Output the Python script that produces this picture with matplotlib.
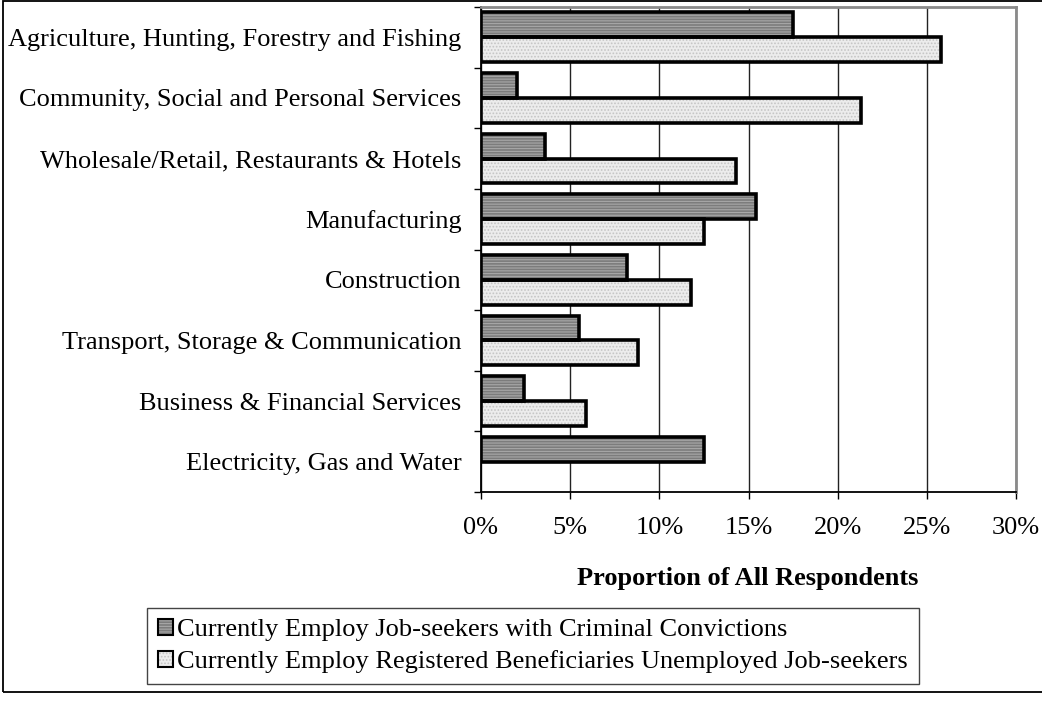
import numpy as np
import matplotlib
matplotlib.use('Agg')
import matplotlib.pyplot as plt
from matplotlib.patches import Patch, Rectangle
from matplotlib.legend_handler import HandlerTuple
from matplotlib.ticker import FixedLocator, FuncFormatter

plt.rcParams['font.family'] = ['Liberation Serif', 'DejaVu Serif']
plt.rcParams['hatch.linewidth'] = 0.8

sectors = ['Agriculture, Hunting, Forestry and Fishing',
           'Community, Social and Personal Services',
           'Wholesale/Retail, Restaurants & Hotels',
           'Manufacturing',
           'Construction',
           'Transport, Storage & Communication',
           'Business & Financial Services',
           'Electricity, Gas and Water']
convictions = [17.5, 2.0, 3.6, 15.4, 8.2, 5.5, 2.4, 12.5]
beneficiaries = [25.8, 21.3, 14.3, 12.5, 11.8, 8.8, 5.9, 0.0]
series_names = ['Currently Employ Job-seekers with Criminal Convictions',
                'Currently Employ Registered Beneficiaries Unemployed Job-seekers']

fs = 19

fig = plt.figure(figsize=(10.42, 7.18), dpi=100)
ax = fig.add_axes([481/1042, 1-492/718, 535/1042, 485/718])

y = np.arange(len(sectors))
h = 0.41
dark = dict(facecolor='#7c7c7c', edgecolor='#a8a8a8', hatch='------', linewidth=0)
light = dict(facecolor='#ececec', edgecolor='#c4c4c4', hatch='.....', linewidth=0)
outline = dict(fill=False, edgecolor='black', linewidth=2.6)

# pattern fill first, black outline on top
ax.barh(y - h/2, convictions, height=h, zorder=2, **dark)
ax.barh(y - h/2, convictions, height=h, zorder=3, **outline)
nz = np.array(beneficiaries) > 0
ax.barh(y[nz] + h/2, np.array(beneficiaries)[nz], height=h, zorder=2, **light)
ax.barh(y[nz] + h/2, np.array(beneficiaries)[nz], height=h, zorder=3, **outline)

ax.set_xlim(0, 30)
ax.set_ylim(len(sectors) - 0.5, -0.5)
ax.set_xticks(np.arange(0, 31, 5))
ax.xaxis.set_major_formatter(FuncFormatter(lambda v, p: '%d%%' % v))
ax.grid(axis='x', color='#222222', linewidth=1, zorder=0)

ax.yaxis.set_major_locator(FixedLocator(np.arange(-0.5, len(sectors), 1)))
ax.yaxis.set_major_formatter(FuncFormatter(lambda v, p: ''))
ax.yaxis.set_minor_locator(FixedLocator(y))
ax.set_yticklabels(sectors, minor=True)
ax.tick_params(axis='y', which='major', length=5, width=1, direction='out')
ax.tick_params(axis='y', which='minor', length=0, pad=14, labelsize=fs)
ax.tick_params(axis='x', length=5, width=1, direction='out', pad=13, labelsize=fs)

for s in ['left', 'bottom']:
    ax.spines[s].set_color('black')
    ax.spines[s].set_linewidth(1.3)
for s in ['top', 'right']:
    ax.spines[s].set_color('#8a8a8a')
    ax.spines[s].set_linewidth(2)

fig.text(748/1042, 1-578/718, 'Proportion of All Respondents', ha='center', va='center',
         fontsize=fs, fontweight='bold')

handles = [(Patch(**dark), Patch(fill=False, edgecolor='black', linewidth=1.5)),
           (Patch(**light), Patch(fill=False, edgecolor='black', linewidth=1.5))]
leg = fig.legend(handles, series_names, loc='center', bbox_to_anchor=(533/1042, 1-646/718),
                 handler_map={tuple: HandlerTuple(ndivide=1)}, fontsize=fs,
                 frameon=True, fancybox=False, edgecolor='#444444', framealpha=1,
                 handlelength=0.55, handleheight=0.55, handletextpad=0.15,
                 labelspacing=0.36, borderpad=0.42, borderaxespad=0)
leg.get_frame().set_linewidth(1)

fig.patches.append(Rectangle((3/1042, 1-692/718), 1.0, 691/718, transform=fig.transFigure,
                             fill=False, edgecolor='black', linewidth=1.3))

fig.savefig('out.png', dpi=100)
